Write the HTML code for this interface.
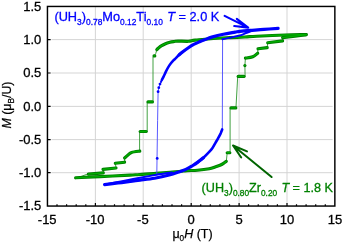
<!DOCTYPE html>
<html><head><meta charset="utf-8">
<style>
html,body{margin:0;padding:0;background:#fff;}
svg{display:block;font-family:"Liberation Sans",sans-serif;}
.tk{font-size:13px;fill:#000;stroke:#000;stroke-width:0.3px;}
.lb{font-size:13.4px;}
.sb{font-size:8.8px;}
.it{font-style:italic;}
</style></head><body>
<svg width="342" height="242" viewBox="0 0 342 242">
<rect width="342" height="242" fill="#fff"/>
<g stroke="#d3d3d3" stroke-width="0.95" fill="none"><path d="M95.4 6.45V206.0M143.2 6.45V206.0M191.2 6.45V206.0M239.1 6.45V206.0M287.0 6.45V206.0M51.45 39.6H332.65000000000003M51.45 73.0H332.65000000000003M51.45 106.4H332.65000000000003M51.45 139.6H332.65000000000003M51.45 172.7H332.65000000000003"/></g>
<g fill="none" stroke-linecap="round" stroke-linejoin="round" transform="translate(0 0.4)">
<g stroke="#2e962e" stroke-width="0.9"><path d="M156.8 49.3L155.8 53.0L154.4 55.5L153.0 56.5L153.0 101.4"/><path d="M147.2 101.4L147.2 131.0"/><path d="M139.6 131.0L139.6 150.5"/><path d="M124.6 157.3L124.6 161.4"/><path d="M115.3 162.5L116.0 167.2"/><path d="M103.0 168.6L103.3 172.1"/><path d="M88.4 173.3L80.0 176.5L75.6 177.4"/><path d="M226.3 161.0L227.2 152.3"/><path d="M230.1 152.3L230.1 107.5"/><path d="M236.0 106.8L237.7 76.0"/><path d="M245.1 76.0L244.9 65.1L245.4 57.7"/><path d="M257.7 52.8L258.0 48.4"/><path d="M267.2 47.2L267.7 42.3"/><path d="M282.6 40.5L283.0 37.0"/></g>
<g stroke="#007d00" stroke-width="3.15"><path d="M306.2 34.2C302.7 34.3 293.2 34.3 285.0 34.6C276.8 34.9 263.4 35.5 256.7 35.8C250.0 36.1 249.4 36.4 245.0 36.6C240.6 36.8 234.6 37.0 230.0 37.2C225.4 37.4 221.7 37.5 217.5 37.8C213.3 38.1 208.4 38.5 205.0 38.8C201.6 39.1 199.0 39.4 197.0 39.6C195.0 39.8 194.4 39.8 193.0 40.0C191.6 40.2 190.9 40.8 188.4 40.9C185.9 41.0 180.3 40.7 178.0 40.7C175.7 40.7 175.7 40.9 174.3 41.1C173.0 41.3 171.4 41.5 169.9 41.9C168.4 42.3 166.9 42.7 165.5 43.3C164.1 43.9 162.4 44.8 161.2 45.5C160.0 46.2 159.2 47.0 158.5 47.6C157.8 48.2 157.1 49.0 156.8 49.3"/><path d="M154.0 55.5L154.8 55.5"/><path d="M152.4 101.5L148.0 101.5"/><path d="M146.2 131.1L140.2 131.1"/><path d="M139.8 150.7C138.4 150.9 133.6 151.4 131.6 152.0C129.6 152.6 129.2 153.6 128.0 154.5C126.8 155.4 125.2 157.1 124.6 157.6"/><path d="M124.6 161.8L115.3 162.9"/><path d="M116.0 167.6L103.0 169.0"/><path d="M103.3 172.5L88.4 173.7"/><path d="M75.6 177.4C79.7 177.2 90.9 176.6 100.0 176.2C109.1 175.8 123.3 175.0 130.0 174.7C136.7 174.3 135.7 174.4 140.0 174.1C144.3 173.8 151.0 173.4 156.0 173.0C161.0 172.6 165.8 172.2 170.0 171.8C174.2 171.4 178.2 171.1 181.0 170.8C183.8 170.5 184.2 170.4 187.0 170.2C189.8 170.0 193.8 170.1 197.5 169.8C201.2 169.5 206.3 168.9 209.2 168.4C212.1 167.9 213.3 167.2 215.1 166.6C216.9 166.0 218.6 165.5 220.0 164.9C221.4 164.3 222.4 163.7 223.5 163.0C224.6 162.3 225.8 161.3 226.3 161.0"/><path d="M227.2 152.3L229.8 152.3"/><path d="M231.0 107.5L235.8 107.5"/><path d="M238.2 76.0L244.0 76.0"/><path d="M244.9 65.1L244.9 65.2"/><path d="M245.4 57.7C246.6 57.5 250.8 57.1 252.8 56.3C254.9 55.5 256.9 53.4 257.7 52.8"/><path d="M258.0 48.4L267.2 47.2"/><path d="M267.7 42.3L282.6 40.5"/><path d="M282.6 37.2C284.7 37.0 291.1 36.3 295.0 35.8C298.9 35.3 304.3 34.5 306.2 34.2"/></g>
<g stroke="#00b000" stroke-width="1.3"><path d="M306.2 34.2C302.7 34.3 293.2 34.3 285.0 34.6C276.8 34.9 263.4 35.5 256.7 35.8C250.0 36.1 249.4 36.4 245.0 36.6C240.6 36.8 234.6 37.0 230.0 37.2C225.4 37.4 221.7 37.5 217.5 37.8C213.3 38.1 208.4 38.5 205.0 38.8C201.6 39.1 199.0 39.4 197.0 39.6C195.0 39.8 194.4 39.8 193.0 40.0C191.6 40.2 190.9 40.8 188.4 40.9C185.9 41.0 180.3 40.7 178.0 40.7C175.7 40.7 175.7 40.9 174.3 41.1C173.0 41.3 171.4 41.5 169.9 41.9C168.4 42.3 166.9 42.7 165.5 43.3C164.1 43.9 162.4 44.8 161.2 45.5C160.0 46.2 159.2 47.0 158.5 47.6C157.8 48.2 157.1 49.0 156.8 49.3"/><path d="M154.0 55.5L154.8 55.5"/><path d="M152.4 101.5L148.0 101.5"/><path d="M146.2 131.1L140.2 131.1"/><path d="M139.8 150.7C138.4 150.9 133.6 151.4 131.6 152.0C129.6 152.6 129.2 153.6 128.0 154.5C126.8 155.4 125.2 157.1 124.6 157.6"/><path d="M124.6 161.8L115.3 162.9"/><path d="M116.0 167.6L103.0 169.0"/><path d="M103.3 172.5L88.4 173.7"/><path d="M75.6 177.4C79.7 177.2 90.9 176.6 100.0 176.2C109.1 175.8 123.3 175.0 130.0 174.7C136.7 174.3 135.7 174.4 140.0 174.1C144.3 173.8 151.0 173.4 156.0 173.0C161.0 172.6 165.8 172.2 170.0 171.8C174.2 171.4 178.2 171.1 181.0 170.8C183.8 170.5 184.2 170.4 187.0 170.2C189.8 170.0 193.8 170.1 197.5 169.8C201.2 169.5 206.3 168.9 209.2 168.4C212.1 167.9 213.3 167.2 215.1 166.6C216.9 166.0 218.6 165.5 220.0 164.9C221.4 164.3 222.4 163.7 223.5 163.0C224.6 162.3 225.8 161.3 226.3 161.0"/><path d="M227.2 152.3L229.8 152.3"/><path d="M231.0 107.5L235.8 107.5"/><path d="M238.2 76.0L244.0 76.0"/><path d="M244.9 65.1L244.9 65.2"/><path d="M245.4 57.7C246.6 57.5 250.8 57.1 252.8 56.3C254.9 55.5 256.9 53.4 257.7 52.8"/><path d="M258.0 48.4L267.2 47.2"/><path d="M267.7 42.3L282.6 40.5"/><path d="M282.6 37.2C284.7 37.0 291.1 36.3 295.0 35.8C298.9 35.3 304.3 34.5 306.2 34.2"/></g>
<g stroke="#4646ff" stroke-width="0.9"><path d="M161.0 81.5L160.0 83.7L158.8 87.3L158.1 91.3L157.6 120.0L156.8 174.3"/><path d="M222.3 128.8L222.6 38.9"/></g>
<g stroke="#0000ff" stroke-width="2"><path d="M162.0 79.3L161.0 81.5"/><path d="M172.0 172.0C169.5 172.4 162.1 173.4 156.8 174.3C151.5 175.2 146.5 176.1 140.0 177.3C133.5 178.5 123.9 180.3 118.0 181.5C112.1 182.7 106.8 183.8 104.6 184.2"/><path d="M222.4 38.9C223.7 38.6 227.1 37.9 230.0 37.3C232.9 36.6 237.3 35.8 240.0 35.0C242.7 34.2 244.0 33.4 246.0 32.6C248.0 31.9 251.0 30.9 252.0 30.5"/></g>
<g stroke="#0000ff" stroke-width="2.6"><path d="M182.5 51.6C181.9 52.0 180.3 53.3 179.2 54.3C178.1 55.3 177.1 56.5 176.1 57.5C175.1 58.5 174.6 58.7 173.4 60.0C172.2 61.3 170.4 63.4 169.2 65.2C168.0 67.0 166.9 69.2 166.0 71.0C165.1 72.8 164.4 74.6 163.7 76.0C163.0 77.4 162.3 78.8 162.0 79.3"/><path d="M197.5 162.0C198.5 161.2 201.5 159.1 203.4 157.3C205.3 155.5 207.7 153.0 209.2 151.4C210.7 149.8 211.4 149.0 212.5 147.5C213.6 146.0 214.6 143.9 215.6 142.2C216.6 140.5 217.5 139.1 218.3 137.5C219.2 135.9 220.0 134.3 220.7 132.9C221.3 131.5 221.9 129.7 222.2 129.0"/></g>
<g stroke="#0000ff" stroke-width="3.2"><path d="M278.1 27.9C275.8 28.1 268.7 28.6 264.0 29.0C259.3 29.4 254.0 29.7 250.0 30.0C246.0 30.3 242.5 30.6 240.0 30.9C237.5 31.2 237.9 31.2 235.1 31.7C232.3 32.2 227.3 33.0 223.4 33.8C219.5 34.6 214.8 35.8 211.7 36.7C208.6 37.6 206.9 38.5 205.0 39.2C203.1 39.9 201.9 40.3 200.1 41.1C198.3 41.9 196.1 42.8 194.2 43.8C192.2 44.8 190.3 46.0 188.4 47.3C186.5 48.6 184.0 50.4 182.5 51.6C181.0 52.8 179.8 53.8 179.2 54.3"/><path d="M104.6 184.2C106.8 183.9 113.8 183.1 118.0 182.6C122.2 182.1 126.3 181.5 130.0 181.0C133.7 180.5 135.9 180.2 140.0 179.7C144.1 179.2 149.7 178.7 154.6 177.8C159.5 177.0 164.8 175.8 169.2 174.6C173.6 173.4 178.1 171.7 180.9 170.8C183.7 169.9 184.0 169.8 185.8 169.0C187.6 168.2 189.8 167.0 191.7 165.8C193.6 164.6 195.6 163.4 197.5 162.0C199.4 160.6 202.4 158.1 203.4 157.3"/></g>
<g fill="#0000ff" stroke="none"><circle cx="157.2" cy="158" r="1.4"/><circle cx="160" cy="83.7" r="1.4"/><circle cx="158.8" cy="87.3" r="1.4"/><circle cx="158.1" cy="91.3" r="1.4"/></g>
</g>
<!-- arrows -->
<g fill="none" stroke="#0000ff" stroke-width="2.1" stroke-linecap="round" stroke-linejoin="round"><path d="M224.6 15.9L248.2 27.6M236.8 18.9L248.2 27.6L234.2 26"/></g>
<g fill="none" stroke="#006400" stroke-width="2" stroke-linecap="round" stroke-linejoin="round"><path d="M271.6 177L233 145.5M247 151.4L233 145.5L241.2 157.5"/></g>
<rect x="47.45" y="6.45" width="287.4" height="199.6" fill="none" stroke="#000" stroke-width="1.45"/>
<g stroke="#000" stroke-width="1.2" fill="none"><path d="M57.0 206.0v-1.8M66.6 206.0v-1.8M76.2 206.0v-1.8M85.8 206.0v-1.8M95.4 206.0v-2.9M104.9 206.0v-1.8M114.5 206.0v-1.8M124.1 206.0v-1.8M133.7 206.0v-1.8M143.2 206.0v-2.9M152.8 206.0v-1.8M162.4 206.0v-1.8M172.0 206.0v-1.8M181.6 206.0v-1.8M191.2 206.0v-2.9M200.7 206.0v-1.8M210.3 206.0v-1.8M219.9 206.0v-1.8M229.5 206.0v-1.8M239.1 206.0v-2.9M248.6 206.0v-1.8M258.2 206.0v-1.8M267.8 206.0v-1.8M277.4 206.0v-1.8M287.0 206.0v-2.9M296.5 206.0v-1.8M306.1 206.0v-1.8M315.7 206.0v-1.8M325.3 206.0v-1.8M47.45 39.6h3.2M47.45 73.0h3.2M47.45 106.4h3.2M47.45 139.6h3.2M47.45 172.7h3.2"/></g>
<text class="tk" x="41.3" y="10.6" text-anchor="end">1.5</text><text class="tk" x="41.3" y="43.7" text-anchor="end">1.0</text><text class="tk" x="41.3" y="77.1" text-anchor="end">0.5</text><text class="tk" x="41.3" y="110.5" text-anchor="end">0.0</text><text class="tk" x="41.3" y="143.7" text-anchor="end">-0.5</text><text class="tk" x="41.3" y="176.8" text-anchor="end">-1.0</text><text class="tk" x="41.3" y="210.1" text-anchor="end">-1.5</text>
<text class="tk" x="47.2" y="223.7" text-anchor="middle">-15</text><text class="tk" x="95.1" y="223.7" text-anchor="middle">-10</text><text class="tk" x="142.9" y="223.7" text-anchor="middle">-5</text><text class="tk" x="191.2" y="223.7" text-anchor="middle">0</text><text class="tk" x="239.1" y="223.7" text-anchor="middle">5</text><text class="tk" x="287.0" y="223.7" text-anchor="middle">10</text><text class="tk" x="334.9" y="223.7" text-anchor="middle">15</text>
<text class="lb" x="54.4" y="21.0" fill="#0000ff" stroke="#0000ff" stroke-width="0.3" textLength="164.9" lengthAdjust="spacingAndGlyphs">(UH<tspan class="sb" dy="3.8">3</tspan><tspan dy="-3.8">)</tspan><tspan class="sb" dy="3.8">0.78</tspan><tspan dy="-3.8">Mo</tspan><tspan class="sb" dy="3.8">0.12</tspan><tspan dy="-3.8">Ti</tspan><tspan class="sb" dy="3.8">0.10</tspan><tspan dy="-3.8" dx="0.8"> </tspan><tspan class="it">T</tspan> = 2.0 K</text>
<text class="lb" x="201.6" y="192.2" fill="#008000" stroke="#008000" stroke-width="0.3" textLength="131.4" lengthAdjust="spacingAndGlyphs">(UH<tspan class="sb" dy="3.8">3</tspan><tspan dy="-3.8">)</tspan><tspan class="sb" dy="3.8">0.80</tspan><tspan dy="-3.8">Zr</tspan><tspan class="sb" dy="3.8">0.20</tspan><tspan dy="-3.8" dx="0.8"> </tspan><tspan class="it">T</tspan> = 1.8 K</text>
<text class="lb" x="172.4" y="237.5" fill="#000" stroke="#000" stroke-width="0.25" textLength="40.2" lengthAdjust="spacingAndGlyphs">μ<tspan class="sb" dy="3">0</tspan><tspan dy="-3" class="it">H</tspan> (T)</text>
<text class="lb" transform="translate(10.5 128.6) rotate(-90)" fill="#000" stroke="#000" stroke-width="0.25" textLength="47.1" lengthAdjust="spacingAndGlyphs"><tspan class="it">M</tspan> (μ<tspan class="sb" dy="3">B</tspan><tspan dy="-3">/U)</tspan></text>
</svg>
</body></html>
